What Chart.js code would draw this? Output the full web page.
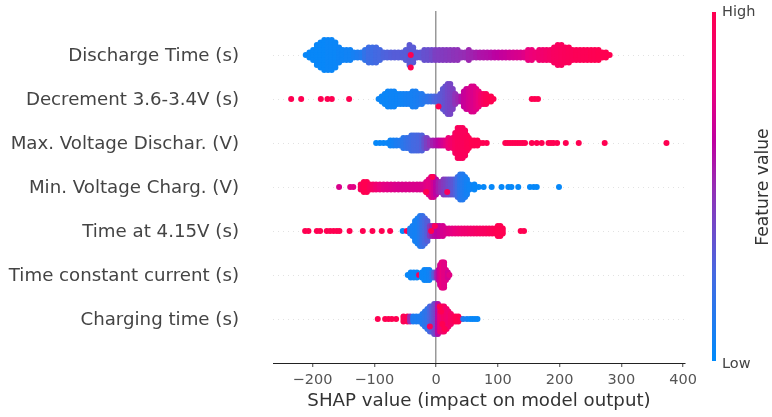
<!DOCTYPE html>
<html>
<head>
<meta charset="utf-8">
<title>SHAP summary</title>
<script src="https://cdn.jsdelivr.net/npm/chart.js@4"></script>
<style>
  html, body { margin: 0; padding: 0; background: #fff; }
  canvas { display: block; filter: blur(0.4px); }
</style>
</head>
<body>
<canvas id="grafico" width="772" height="417"></canvas>
<script>
// --- feature names, top to bottom ---
const features = ["Discharge Time (s)", "Decrement 3.6-3.4V (s)", "Max. Voltage Dischar. (V)", "Min. Voltage Charg. (V)", "Time at 4.15V (s)", "Time constant current (s)", "Charging time (s)"];
const xTicks = [-200, -100, 0, 100, 200, 300, 400];

// each row: SHAP value, how many samples pile up there, feature value (0 low, 1 high)
const dischargeX = [-211,-205,-199,-193,-187,-181,-175,-169,-163,-157,
    -151,-145,-139,-133,-127,-121,-115,-109,-103,-97,
    -91,-85,-79,-73,-67,-61,-55,-49,-43,-37,
    -31,-25,-19,-13,-7,-1,5,11,17,23,
    29,35,41,47,53,59,65,71,77,83,
    89,95,101,107,113,119,125,131,137,143,
    149,155,161,167,173,179,185,191,197,203,
    209,215,221,227,233,239,245,251,257,263,
    269,275,281];
const dischargeN = [1,3,5,9,11,13,13,13,11,7,
    5,5,5,3,3,3,5,7,7,7,
    5,3,3,3,3,3,3,5,9,7,
    3,3,5,5,5,5,5,5,5,5,
    5,5,3,3,5,3,3,3,3,3,
    3,3,3,3,3,3,3,3,3,3,
    5,5,3,5,5,5,5,7,9,9,
    7,7,5,5,5,5,5,5,5,5,
    3,3,1];
const dischargeC = [.03,.03,.03,.03,.03,.03,.04,.04,.04,.05,
    .05,.06,.06,.08,.1,.12,.18,.22,.22,.24,
    .25,.27,.28,.29,.3,.3,.3,.3,.32,.31,
    .32,.33,.35,.36,.38,.42,.43,.44,.45,.46,
    .47,.48,.49,.5,.52,.53,.55,.57,.58,.59,
    .6,.62,.63,.65,.66,.68,.7,.71,.72,.74,
    .78,.8,.82,.84,.86,.88,.9,.92,.93,.94,
    .95,.96,.96,.97,.97,.98,.98,.99,.99,1,
    1,1,1];

const decrementX = [-234.6,-218.4,-186.6,-175.8,-168.8,-140.8,
    -93,-88,-83,-78,-73,-68,-63,-58,-53,-48,
    -43,-38,-33,-28,-23,-18,-13,-8,-3,2,
    7,11,15,19,23,27,31,36,41,45,
    49,53,57,61,65,69,73,77,81,85,
    89,93,155,160,165];
const decrementN = [1,1,1,1,1,1,
    1,3,5,7,7,7,5,5,5,5,
    5,7,7,5,5,3,3,3,3,3,
    5,9,11,13,13,9,5,3,3,7,
    9,9,11,11,9,7,5,5,5,3,
    3,1,1,1,1];
const decrementC = [1,1,1,1,1,1,
    .04,.04,.04,.04,.05,.05,.05,.06,.06,.07,
    .08,.08,.09,.1,.12,.14,.17,.2,.25,.28,
    .3,.33,.35,.38,.4,.42,.48,.52,.58,.65,
    .67,.7,.72,.72,.75,.78,.85,.92,.96,.98,
    1,1,1,1,1];

const maxVoltX = [-97,-91,-85,-79,-74,-69,-64,-58,-53,-48,
    -44,-40,-36,-32,-28,-23,-19,-15,-10,-5,
    0,4,8,12,16,20,24,27,31,35,
    39,43,47,50,53,58,62,67,71,76,
    82,112,116,120,124,128,132,136,140,144,
    155,163,171,182,186,190,196,210,231,273,
    373];
const maxVoltN = [1,1,1,1,3,3,3,3,5,5,
    5,7,7,7,7,7,5,5,3,3,
    3,3,3,3,3,5,3,5,9,13,
    13,13,11,7,5,3,3,3,1,1,
    1,1,1,1,1,1,1,1,1,1,
    1,1,1,1,1,1,1,1,1,1,
    1];
const maxVoltC = [.02,.03,.03,.04,.05,.07,.1,.12,.15,.18,
    .2,.22,.24,.25,.26,.28,.35,.42,.48,.54,
    .58,.62,.66,.7,.74,.8,.85,.88,.92,.95,
    .95,.95,.95,.97,.98,1,1,1,1,1,
    1,1,1,1,1,1,1,1,1,1,
    1,1,1,1,1,1,1,1,1,1,
    1];

const minVoltX = [-157,-139,-134,-122,-117,-112,-107,-102,-97,-91,
    -85,-79,-73,-67,-61,-55,-49,-43,-37,-31,
    -26,-21,-16,-12,-8,-4,0,4,8,12,
    16,20,24,28,32,35,39,43,47,50,
    54,62,69,77,90,106,117,122,133,152,
    158,163,199];
const minVoltN = [1,1,1,3,5,5,3,3,3,3,
    3,3,3,3,3,3,3,3,3,3,
    3,3,5,7,9,9,7,5,5,7,
    7,7,7,7,7,9,11,11,9,7,
    3,3,1,1,1,1,1,1,1,1,
    1,1,1];
const minVoltC = [.72,.75,.75,.95,1,1,.95,.9,.85,.8,
    .76,.75,.74,.73,.72,.72,.72,.72,.72,.72,
    .72,.72,.74,.76,.75,.7,.62,.55,.5,.45,
    .42,.38,.35,.32,.28,.22,.15,.12,.1,.07,
    .05,.03,.02,.02,.02,.02,.02,.02,.02,.02,
    .02,.02,.02];

const time415X = [-212,-206.6,-193,-187.7,-177,-171.5,-166,-160.7,-156.4,-140,
    -118.6,-103,-87.9,-74.4,-54,-47.4,-42,-38,-34,-30,
    -26,-22,-18,-14,-10,-6,-2,2,6,11,
    16,21,26,31,36,41,46,51,56,61,
    66,71,76,81,86,91,96,100,104,108,
    137,142.4];
const time415N = [1,1,1,1,1,1,1,1,1,1,
    1,1,1,1,1,1,3,5,9,11,
    13,13,11,9,5,5,5,5,5,5,
    3,3,3,3,3,3,3,3,3,3,
    3,3,3,3,3,3,3,5,5,3,
    1,1];
const time415C = [1,1,1,1,1,1,1,1,1,1,
    1,1,1,1,.02,1,.1,.08,.07,.08,
    .12,.2,.25,.3,.45,.55,.6,.62,.66,.7,
    .72,.74,.76,.78,.8,.82,.84,.85,.87,.88,
    .9,.91,.92,.93,.95,.96,.98,1,1,1,
    1,1];

const constCurX = [-45.8,-41,-36,-31,-27.5,-23,-19,-15,-11,-7,
    -3,1,4,6.5,9,11,13,16,19,21.6];
const constCurN = [1,3,3,3,1,3,5,5,5,3,
    3,3,5,9,11,11,11,5,3,1];
const constCurC = [.03,.03,.03,.03,.95,.04,.04,.04,.06,.12,
    .3,.5,.6,.7,.75,.78,.75,.75,.7,.75];

const chargingX = [-94.4,-82.5,-77,-71.7,-64.7,-52.8,-46.4,-42,-37,-32,
    -27,-22,-18,-14,-10,-7,-3,-.5,3,6.5,
    10,13,17,20,24,28,32,36,40,44,
    50,55,59,63,67];
const chargingN = [1,1,1,1,1,3,3,3,3,3,
    3,5,7,9,11,11,13,13,13,11,
    11,11,9,7,5,3,3,3,1,1,
    1,1,1,1,1];
const chargingC = [1,1,1,1,1,.98,.98,.5,.1,.1,
    .1,.12,.15,.18,.25,.3,.35,.4,.6,.8,
    .85,.9,.88,.85,.9,.95,1,1,1,.1,
    .07,.04,.03,.03,.03];

// single samples of another colour that sit on top of a pile
const strayRow = [0,0,1,4,4,6,6,6,6,6,3,3,3];
const strayX = [-41,-41,4,-8,-2,6,10,14,8,-10,-16,-6,18];
const strayLane = [0,5,3,0,-2,-5,2,4,-3,3,2,-4,2];
const strayC = [1,1,1,1,.95,1,1,1,1,.95,1,1,.95];

const laneStep = 0.057;   // lane height, in rows

// colour map (position, r, g, b)
const paradas = [[0, 0, 139, 251], [.25, 70, 105, 225], [.5, 150, 45, 180], [.63, 190, 0, 160], [.78, 235, 0, 125], [1, 255, 0, 81]];

// --- helpers ---
function corDoValor(v) {
    let i = 0;
    while (i < paradas.length - 2 && v > paradas[i + 1][0]) i++;
    const a = paradas[i], b = paradas[i + 1];
    const t = (v - a[0]) / (b[0] - a[0]);
    const canal = k => Math.round(a[k] + (b[k] - a[k]) * t);
    return `rgb(${canal(1)},${canal(2)},${canal(3)})`;
}

function montarLinha(row, xs, ns, cs) {
    const pontos = [];
    xs.forEach((x, i) => {
        const metade = (ns[i] - 1) / 2;
        for (let lane = -metade; lane <= metade; lane++) {
            pontos.push({ x: x, y: row + lane * laneStep, c: cs[i] });
        }
    });
    return pontos;
}

const linhas = [
    montarLinha(0, dischargeX, dischargeN, dischargeC),
    montarLinha(1, decrementX, decrementN, decrementC),
    montarLinha(2, maxVoltX, maxVoltN, maxVoltC),
    montarLinha(3, minVoltX, minVoltN, minVoltC),
    montarLinha(4, time415X, time415N, time415C),
    montarLinha(5, constCurX, constCurN, constCurC),
    montarLinha(6, chargingX, chargingN, chargingC)
];
strayRow.forEach((row, i) => {
    linhas[row].push({ x: strayX[i], y: row + strayLane[i] * laneStep, c: strayC[i] });
});

// colour bar on the right side
const barraCores = {
    id: "barraCores",
    afterDraw(chart) {
        const ctx = chart.ctx;
        const grad = ctx.createLinearGradient(0, 361, 0, 12);
        paradas.forEach(p => grad.addColorStop(p[0], corDoValor(p[0])));
        ctx.save();
        ctx.fillStyle = grad;
        ctx.fillRect(712, 12, 4, 349);
        ctx.fillStyle = "#444";
        ctx.font = "14.5px 'DejaVu Sans'";
        ctx.textBaseline = "middle";
        ctx.fillText("High", 722, 12);
        ctx.fillText("Low", 722, 364);
        ctx.font = "17.2px 'DejaVu Sans'";
        ctx.translate(764, 187);
        ctx.rotate(-Math.PI / 2);
        ctx.textAlign = "center";
        ctx.fillStyle = "#333";
        ctx.fillText("Feature value", 0, 0);
        ctx.restore();
    }
};

new Chart(document.getElementById("grafico"), {
    type: "scatter",
    data: {
        datasets: linhas.map((pontos, i) => ({
            label: features[i],
            data: pontos,
            pointRadius: 3,
            pointHoverRadius: 3,
            pointBorderWidth: 0,
            pointBackgroundColor: pontos.map(p => corDoValor(p.c))
        }))
    },
    plugins: [barraCores],
    options: {
        responsive: false,
        animation: false,
        layout: { padding: { left: 0, right: 87, top: 11, bottom: 0 } },
        plugins: { legend: { display: false }, tooltip: { enabled: false } },
        scales: {
            x: {
                type: "linear",
                min: -264,
                max: 403,
                afterBuildTicks: s => { s.ticks = xTicks.map(v => ({ value: v })); },
                afterFit: s => { s.height = 54; },
                border: { display: true, color: "#222", width: 1 },
                grid: {
                    color: c => (c.tick && c.tick.value === 0 ? "#999999" : "transparent"),
                    lineWidth: 1.5,
                    tickColor: "#444",
                    tickLength: 4,
                    tickWidth: 1
                },
                ticks: {
                    color: "#555",
                    font: { family: "DejaVu Sans", size: 14.5 },
                    padding: 5,
                    maxRotation: 0,
                    callback: v => String(v).replace("-", "\u2212")
                },
                title: {
                    display: true,
                    text: "SHAP value (impact on model output)",
                    color: "#333",
                    font: { family: "DejaVu Sans", size: 18.2 },
                    padding: { top: 1, bottom: 5 }
                }
            },
            y: {
                reverse: true,
                min: -1,
                max: 7,
                afterFit: s => { s.width = 273; s.paddingTop = 0; s.paddingBottom = 0; },
                border: { display: false, dash: [1, 4] },
                grid: {
                    color: c => (c.tick && c.tick.value >= 0 && c.tick.value <= 6 ? "#e2e2e2" : "transparent"),
                    lineWidth: 1,
                    drawTicks: false
                },
                ticks: {
                    stepSize: 1,
                    color: "#444",
                    font: { family: "DejaVu Sans", size: 18.2 },
                    padding: 34,
                    labelOffset: 1,
                    callback: v => features[v] || ""
                }
            }
        }
    }
});
</script>
</body>
</html>
